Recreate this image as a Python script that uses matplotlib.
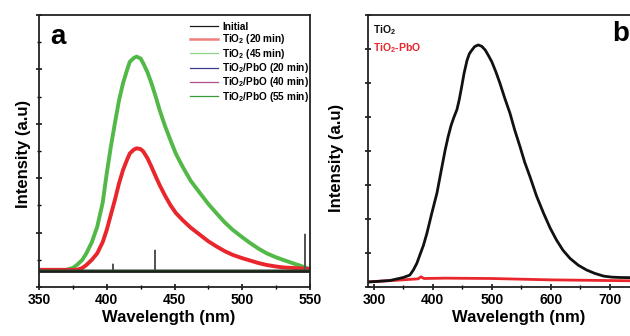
import matplotlib
matplotlib.use('Agg')
import matplotlib.pyplot as plt
from matplotlib.ticker import MultipleLocator

plt.rcParams['font.family'] = ['Liberation Sans', 'DejaVu Sans']
plt.rcParams['font.weight'] = 'bold'
plt.rcParams['mathtext.fontset'] = 'custom'
plt.rcParams['mathtext.rm'] = 'Liberation Sans:bold'
plt.rcParams['mathtext.it'] = 'Liberation Sans:bold'
plt.rcParams['mathtext.bf'] = 'Liberation Sans:bold'
plt.rcParams['mathtext.default'] = 'rm'

# ---- panel a data (wavelength nm, intensity a.u.) ----
wl_tio2_45 = [350, 370, 375, 378, 382, 385, 389, 393, 397, 400, 403, 406, 409, 412,
              415, 417, 420, 422, 425, 427, 430, 433, 436, 439, 443, 447, 451, 456,
              462, 469, 475, 481, 487, 493, 500, 506, 512, 518, 524, 530, 537, 543,
              548, 550]
int_tio2_45 = [0.63, 0.63, 0.70, 0.81, 1.00, 1.24, 1.65, 2.22, 3.10, 4.18, 5.15, 6.02,
               6.85, 7.49, 7.98, 8.28, 8.42, 8.47, 8.40, 8.22, 7.90, 7.49, 7.02, 6.51,
               5.92, 5.40, 4.90, 4.42, 3.90, 3.44, 3.05, 2.71, 2.38, 2.10, 1.83, 1.61,
               1.41, 1.24, 1.11, 1.00, 0.88, 0.78, 0.69, 0.66]

wl_tio2_20 = [350, 378, 382, 385, 389, 393, 397, 400, 403, 406, 409, 412, 415, 417,
              420, 422, 425, 427, 430, 433, 436, 439, 443, 447, 451, 456, 462, 469,
              475, 481, 487, 493, 500, 506, 512, 518, 524, 530, 541, 550]
int_tio2_20 = [0.63, 0.63, 0.70, 0.81, 1.00, 1.24, 1.65, 2.10, 2.65, 3.20, 3.80, 4.30,
               4.68, 4.91, 5.05, 5.10, 5.07, 4.98, 4.74, 4.42, 4.08, 3.75, 3.36, 3.01,
               2.72, 2.46, 2.18, 1.91, 1.68, 1.49, 1.32, 1.18, 1.06, 0.97, 0.88, 0.81,
               0.76, 0.72, 0.69, 0.66]

wl_initial = [350, 404.4, 404.6, 404.8, 435.4, 435.6, 435.8, 546.1, 546.3, 546.5, 550]
int_initial = [0.62, 0.62, 0.85, 0.62, 0.62, 1.36, 0.62, 0.62, 1.95, 0.62, 0.62]

wl_flat = [350, 550]
int_pbo_20 = [0.60, 0.60]
int_pbo_40 = [0.64, 0.64]
int_pbo_55 = [0.58, 0.58]

# ---- panel b data ----
wl_b = [290, 293, 327, 350, 361, 367, 373, 378, 384, 390, 398, 407, 414, 421, 426,
        431, 436, 441, 445, 449, 453, 458, 462, 466, 471, 477, 483, 489, 494, 500,
        507, 514, 522, 531, 539, 548, 556, 565, 576, 588, 599, 610, 621, 633, 647,
        661, 675, 690, 704, 718, 750]
int_b_tio2 = [0.15, 0.15, 0.19, 0.28, 0.35, 0.50, 0.70, 0.94, 1.22, 1.58, 2.15, 2.76,
              3.40, 4.03, 4.42, 4.75, 5.00, 5.22, 5.52, 5.89, 6.28, 6.66, 6.86, 6.96,
              7.07, 7.12, 7.08, 6.97, 6.82, 6.63, 6.33, 5.99, 5.56, 5.11, 4.62, 4.13,
              3.67, 3.24, 2.68, 2.17, 1.74, 1.38, 1.08, 0.84, 0.64, 0.50, 0.40, 0.32,
              0.29, 0.28, 0.27]
wl_b_pbo = [290, 340, 375, 380, 385, 420, 500, 600, 700, 750]
int_b_pbo = [0.15, 0.20, 0.24, 0.30, 0.25, 0.26, 0.25, 0.21, 0.19, 0.18]

W, H = 630, 336
fig = plt.figure(figsize=(6.3, 3.36), dpi=100)
axa = fig.add_axes([39 / W, 49 / H, 271 / W, 272 / H])
axb = fig.add_axes([368 / W, 49 / H, 271 / W, 272 / H])

red = '#e8262c'
green = '#52b848'

axa.plot(wl_flat, int_pbo_55, color='#2e7d32', lw=1.5)
axa.plot(wl_tio2_45, int_tio2_45, color=green, lw=2.8, solid_joinstyle='round')
axa.plot(wl_tio2_20, int_tio2_20, color=red, lw=2.8, solid_joinstyle='round')
axa.plot(wl_initial, int_initial, color='#555555', lw=0.8)
axa.plot(wl_flat, int_pbo_20, color='#1a1a1a', lw=2.0)
axa.plot(wl_flat, int_pbo_40, color='#203a20', lw=1.0)

# legend handles for panel a
la = []
la += axa.plot([], [], color='#1a1a1a', lw=0.9)
la += axa.plot([], [], color='#f08080', lw=1.8)
la += axa.plot([], [], color='#8fd488', lw=0.9)
la += axa.plot([], [], color='#3a3a8c', lw=0.9)
la += axa.plot([], [], color='#b0508a', lw=0.9)
la += axa.plot([], [], color='#3a9a3a', lw=0.9)
labels_a = ['Initial', r'TiO$_2$ (20 min)', r'TiO$_2$ (45 min)',
            r'TiO$_2$/PbO (20 min)', r'TiO$_2$/PbO (40 min)', r'TiO$_2$/PbO (55 min)']
axa.legend(la, labels_a, loc='upper left', bbox_to_anchor=(0.557, 0.975),
           frameon=False, fontsize=7.2, handlelength=2.8, handletextpad=0.4,
           labelspacing=0.04, borderpad=0, borderaxespad=0)

axa.set_xlim(350, 550)
axa.set_ylim(0, 10)
axa.xaxis.set_major_locator(MultipleLocator(50))
axa.xaxis.set_minor_locator(MultipleLocator(25))
axa.yaxis.set_major_locator(MultipleLocator(2))
axa.yaxis.set_minor_locator(MultipleLocator(1))
axa.set_yticklabels([])
axa.text(0.04, 0.92, 'a', transform=axa.transAxes, fontsize=20, fontweight='bold',
         va='center', ha='left')
axa.set_xlabel('Wavelength (nm)', fontsize=12, fontweight='bold')
axa.set_ylabel('Intensity (a.u)', fontsize=12, fontweight='bold')
axa.xaxis.set_label_coords(0.48, -0.085)
axa.yaxis.set_label_coords(-0.03, 0.49)

axb.plot(wl_b_pbo, int_b_pbo, color=red, lw=2.0)
axb.plot(wl_b, int_b_tio2, color='#111111', lw=2.0, solid_joinstyle='round')
axb.set_xlim(290, 750)
axb.set_ylim(0, 8)
axb.xaxis.set_major_locator(MultipleLocator(100))
axb.xaxis.set_minor_locator(MultipleLocator(50))
axb.yaxis.set_major_locator(MultipleLocator(1))
axb.set_yticklabels([])
axb.text(0.90, 0.93, 'b', transform=axb.transAxes, fontsize=20, fontweight='bold',
         va='center', ha='left')
axb.set_xlabel('Wavelength (nm)', fontsize=12, fontweight='bold')
axb.set_ylabel('Intensity (a.u)', fontsize=12, fontweight='bold')
axb.xaxis.set_label_coords(0.555, -0.085)
axb.yaxis.set_label_coords(-0.09, 0.476)

lb = axb.legend(axb.get_lines()[::-1], ['TiO$_2$', 'TiO$_2$-PbO'], loc='upper left',
                bbox_to_anchor=(0.02, 0.97), frameon=False, fontsize=7.5,
                handlelength=0, handletextpad=0, labelspacing=0.45,
                borderpad=0, borderaxespad=0)
for h in lb.legend_handles:
    h.set_visible(False)
for t, c in zip(lb.get_texts(), ['#111111', red]):
    t.set_color(c)

for ax in (axa, axb):
    for s in ax.spines.values():
        s.set_linewidth(1.3)
        s.set_color('#222222')
    ax.tick_params(which='major', direction='inout', length=5, width=1.1,
                   labelsize=10, pad=2, top=False, right=False)
    ax.tick_params(which='minor', direction='inout', length=3, width=1.0,
                   top=False, right=False)
    for lab in ax.get_xticklabels():
        lab.set_fontweight('bold')

plt.savefig('out.png', dpi=100)
